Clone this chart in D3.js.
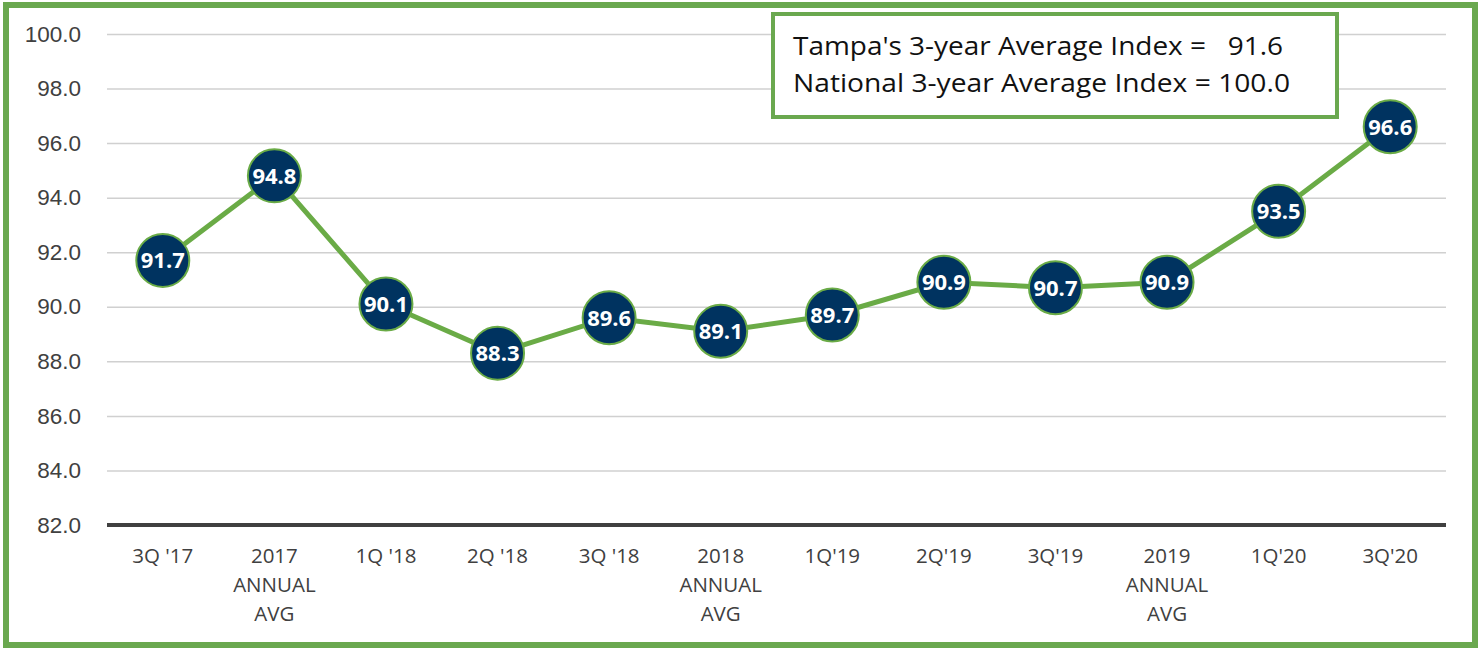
<!DOCTYPE html>
<html>
<head>
<meta charset="utf-8">
<script src="https://cdn.jsdelivr.net/npm/d3@7"></script>
<style>
  html, body { margin: 0; padding: 0; background: #fff; }
  svg { display: block; font-family: "Open Sans", "Noto Sans", sans-serif; }
</style>
</head>
<body>
<div id="chart"></div>
<script>
// chart data
const categories = ["3Q '17", "2017|ANNUAL|AVG", "1Q '18", "2Q '18", "3Q '18", "2018|ANNUAL|AVG",
                    "1Q'19", "2Q'19", "3Q'19", "2019|ANNUAL|AVG", "1Q'20", "3Q'20"];
const indexValues = [91.7, 94.8, 90.1, 88.3, 89.6, 89.1, 89.7, 90.9, 90.7, 90.9, 93.5, 96.6];
const yTicks = [82, 84, 86, 88, 90, 92, 94, 96, 98, 100];
const legendLines = ["Tampa's 3-year Average Index =   91.6", "National 3-year Average Index = 100.0"];

const width = 1482, height = 648;
const margin = { top: 34, right: 36, bottom: 123, left: 107 };

const svg = d3.select("#chart").append("svg")
    .attr("width", width)
    .attr("height", height);

// outer green frame
svg.append("rect")
    .attr("x", 6).attr("y", 5)
    .attr("width", 1469).attr("height", 640)
    .attr("fill", "#fff")
    .attr("stroke", "#6aa84f")
    .attr("stroke-width", 6);

const x = d3.scalePoint()
    .domain(categories)
    .range([margin.left, width - margin.right])
    .padding(0.5);

const y = d3.scaleLinear()
    .domain([82, 100])
    .range([height - margin.bottom, margin.top]);

// gridlines + y labels
const yAxis = d3.axisLeft(y)
    .tickValues(yTicks)
    .tickSize(-(width - margin.left - margin.right))
    .tickPadding(26)
    .tickFormat(d3.format(".1f"));

const gy = svg.append("g")
    .attr("transform", `translate(${margin.left},0)`)
    .call(yAxis);
gy.select(".domain").remove();
gy.selectAll(".tick line")
    .attr("stroke", d => d === 82 ? "none" : "#d0d0d0")
    .attr("stroke-width", 1.5);
gy.selectAll(".tick text")
    .attr("fill", "#404040")
    .style("font-size", "22.5px");

// baseline
svg.append("line")
    .attr("x1", margin.left).attr("x2", width - margin.right)
    .attr("y1", y(82)).attr("y2", y(82))
    .attr("stroke", "#404040")
    .attr("stroke-width", 4);

// x labels (multi-line)
const xl = svg.append("g")
    .selectAll("text")
    .data(categories)
    .join("text")
    .attr("x", d => x(d))
    .attr("y", y(82) + 38)
    .attr("text-anchor", "middle")
    .attr("fill", "#404040")
    .style("font-size", "20.5px");
xl.selectAll("tspan")
    .data(d => d.split("|").map(t => ({ t, cx: x(d) })))
    .join("tspan")
    .attr("x", d => d.cx)
    .attr("dy", (d, i) => i === 0 ? 0 : 29)
    .text(d => d.t);

// line
const line = d3.line()
    .x((d, i) => x(categories[i]))
    .y(d => y(d));

svg.append("path")
    .datum(indexValues)
    .attr("fill", "none")
    .attr("stroke", "#6aab46")
    .attr("stroke-width", 5)
    .attr("d", line);

// markers with labels
const pts = svg.append("g")
    .selectAll("g")
    .data(indexValues)
    .join("g")
    .attr("transform", (d, i) => `translate(${x(categories[i])},${y(d)})`);

pts.append("circle")
    .attr("r", 26.5)
    .attr("fill", "#003360")
    .attr("stroke", "#6aab46")
    .attr("stroke-width", 2);

pts.append("text")
    .attr("text-anchor", "middle")
    .attr("dy", "0.36em")
    .attr("fill", "#fff")
    .style("font-size", "22px")
    .style("font-weight", "bold")
    .attr("textLength", 44)
    .attr("lengthAdjust", "spacingAndGlyphs")
    .text(d => d.toFixed(1));

// legend box
const lg = svg.append("g");
lg.append("rect")
    .attr("x", 773).attr("y", 14)
    .attr("width", 564).attr("height", 103)
    .attr("fill", "#fff")
    .attr("stroke", "#6aa84f")
    .attr("stroke-width", 4);

lg.selectAll("text")
    .data(legendLines)
    .join("text")
    .attr("x", 793)
    .attr("y", (d, i) => 55 + i * 37)
    .attr("fill", "#111")
    .style("font-size", "26px")
    .attr("xml:space", "preserve")
    .attr("textLength", (d, i) => i === 0 ? 490 : 497)
    .attr("lengthAdjust", "spacingAndGlyphs")
    .text(d => d);
</script>
</body>
</html>
